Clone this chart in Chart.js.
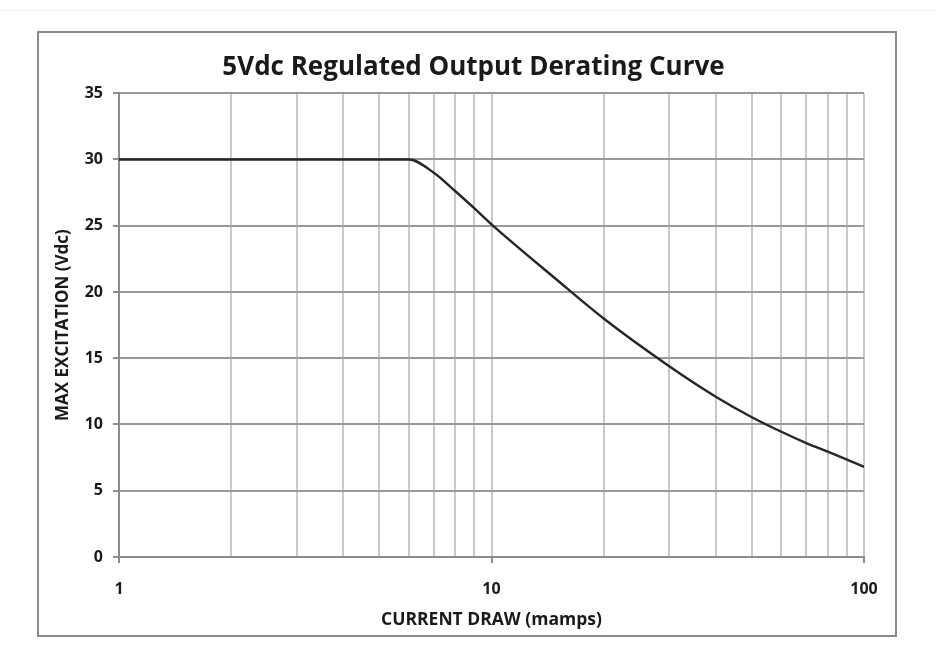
<!DOCTYPE html>
<html>
<head>
<meta charset="utf-8">
<script src="https://cdn.jsdelivr.net/npm/chart.js@4.4.1/dist/chart.umd.min.js"></script>
<style>
  html, body { margin: 0; padding: 0; background: #fff; }
  #wrap { position: absolute; left: 0; top: 0; width: 936px; height: 656px; }
</style>
</head>
<body>
<div id="wrap"><canvas id="c" width="936" height="656"></canvas></div>
<script>
// Current draw (mA) and max excitation (Vdc)
const currentDraw = [1, 2, 3, 4, 5, 6, 7, 8, 9, 10, 15, 20, 30, 40, 50, 60, 70, 80, 90, 100];
const maxExcitation = [30, 30, 30, 30, 30, 30, 29.0, 27.6, 26.3, 25.1, 20.9, 18.0, 14.4, 12.1, 10.55, 9.45, 8.6, 7.95, 7.35, 6.8];
const xLabelTicks = [1, 10, 100];
const yTicks = [0, 5, 10, 15, 20, 25, 30, 35];
const titleText = '5Vdc Regulated Output Derating Curve';
const xTitle = 'CURRENT DRAW (mamps)';
const yTitle = 'MAX EXCITATION (Vdc)';

const FONT = "'Open Sans', 'Liberation Sans', sans-serif";

const frame = {
  id: 'frame',
  afterLayout(chart) {
    const t = chart.titleBlock;
    if (t) { t.left += 15; t.right += 15; }
  },
  beforeDraw(chart) {
    const ctx = chart.ctx;
    ctx.save();
    ctx.fillStyle = '#fff';
    ctx.fillRect(0, 0, chart.width, chart.height);
    ctx.strokeStyle = '#f0f0f0';
    ctx.lineWidth = 1;
    ctx.beginPath();
    ctx.moveTo(0, 10.5); ctx.lineTo(936, 10.5);
    ctx.stroke();
    ctx.strokeStyle = '#8a8a8a';
    ctx.lineWidth = 2;
    ctx.strokeRect(38, 32, 858, 604);
    ctx.restore();
  }
};

const isDecade = v => xLabelTicks.includes(v);

new Chart(document.getElementById('c'), {
  type: 'line',
  data: {
    datasets: [{
      data: currentDraw.map((x, i) => ({ x: x, y: maxExcitation[i] })),
      borderColor: '#262626',
      borderWidth: 2.4,
      pointRadius: 0,
      cubicInterpolationMode: 'monotone',
      fill: false
    }]
  },
  plugins: [frame],
  options: {
    responsive: false,
    animation: false,
    devicePixelRatio: 1,
    layout: { padding: { left: 53, right: 72, top: 52, bottom: 25 } },
    plugins: {
      legend: { display: false },
      tooltip: { enabled: false },
      title: {
        display: true,
        text: titleText,
        color: '#1a1a1a',
        font: { family: FONT, size: 26, weight: 'bold' },
        padding: { top: 0, bottom: 10 }
      }
    },
    scales: {
      x: {
        type: 'logarithmic',
        min: 1,
        max: 100,
        afterBuildTicks(scale) {
          const t = [];
          for (let d = 1; d < 100; d *= 10) {
            for (let k = 1; k < 10; k++) t.push({ value: k * d });
          }
          t.push({ value: 100 });
          scale.ticks = t;
        },
        afterFit(scale) { scale.height = 74; },
        border: { display: true, color: '#8c8c8c', width: 2 },
        grid: {
          color: ctx => (ctx.tick && ctx.tick.value === 1) ? '#8c8c8c' : '#c9c9c9',
          lineWidth: 2,
          drawTicks: true,
          tickLength: 6,
          tickColor: ctx => (ctx.tick && isDecade(ctx.tick.value)) ? '#8c8c8c' : 'rgba(0,0,0,0)'
        },
        ticks: {
          autoSkip: false,
          maxRotation: 0,
          padding: 17,
          color: '#1a1a1a',
          font: { family: FONT, size: 16, weight: 'bold' },
          callback: v => isDecade(v) ? String(v) : ''
        },
        title: {
          display: true,
          text: xTitle,
          color: '#1a1a1a',
          font: { family: FONT, size: 17.5, weight: 'bold' },
          padding: { top: 0, bottom: 0 }
        }
      },
      y: {
        min: 0,
        max: 35,
        afterBuildTicks(scale) { scale.ticks = yTicks.map(v => ({ value: v })); },
        afterFit(scale) { scale.width = 66; },
        border: { display: true, color: '#8c8c8c', width: 2 },
        grid: {
          color: '#9a9a9a',
          lineWidth: 2,
          drawTicks: true,
          tickLength: 6,
          tickColor: '#8c8c8c'
        },
        ticks: {
          padding: 10,
          color: '#1a1a1a',
          font: { family: FONT, size: 16, weight: 'bold' }
        },
        title: {
          display: true,
          text: yTitle,
          color: '#1a1a1a',
          font: { family: FONT, size: 17, weight: 'bold' },
          padding: { top: 0, bottom: 0 }
        }
      }
    }
  }
});
</script>
</body>
</html>
